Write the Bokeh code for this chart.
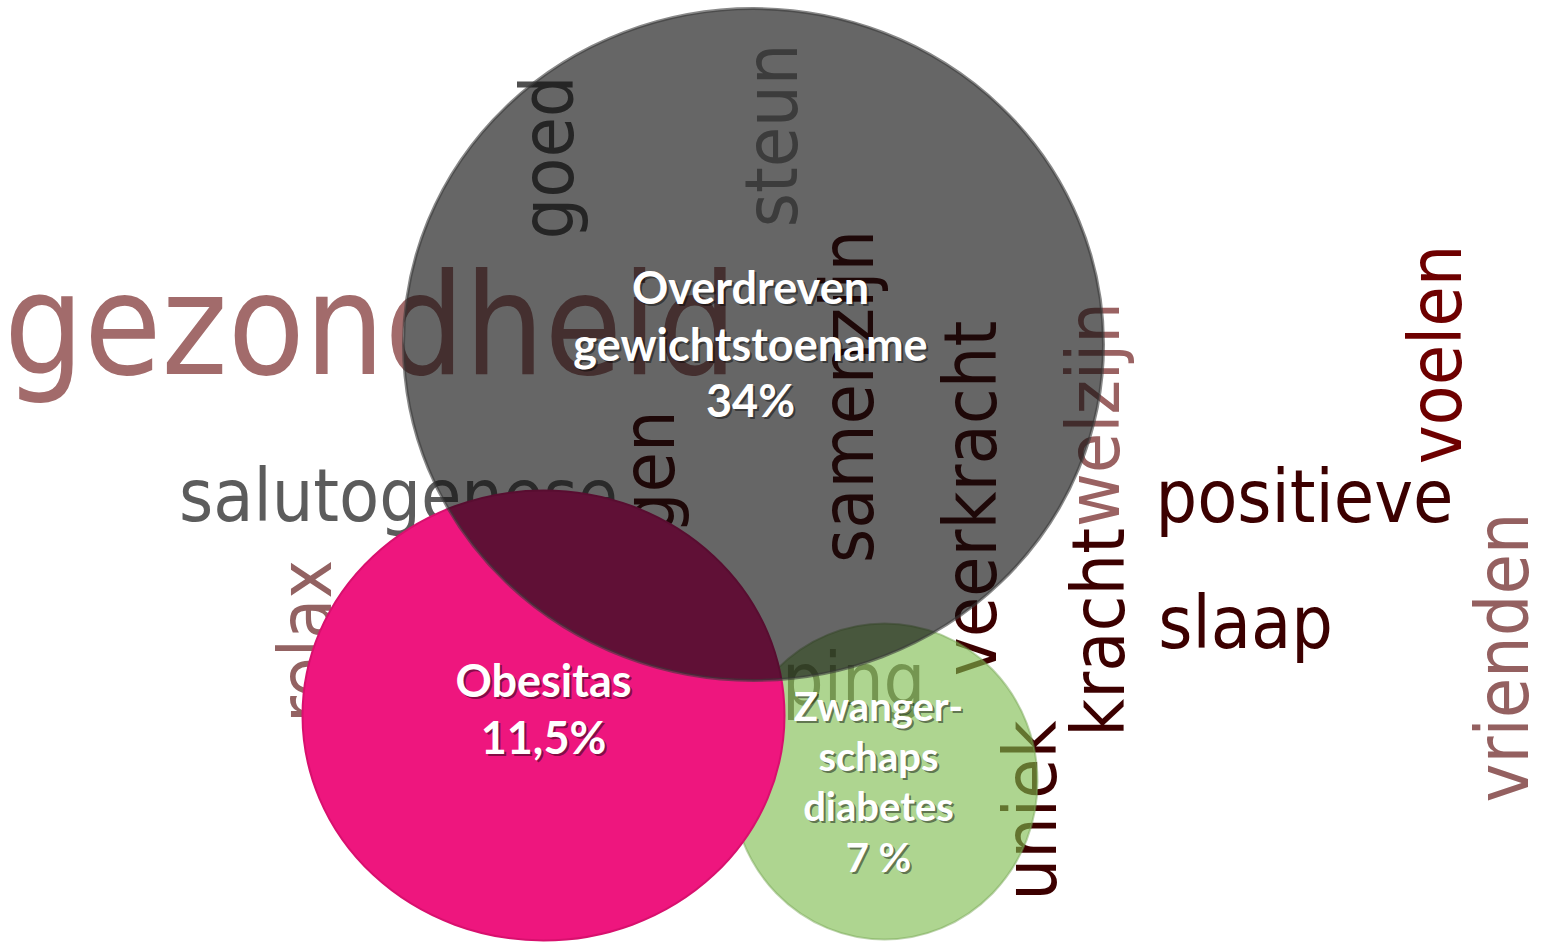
import math
from bokeh.plotting import figure
from bokeh.models import Range1d, ColumnDataSource
from bokeh.core.properties import value
from bokeh.embed import file_html
from bokeh.resources import INLINE

# ---------------- data ----------------
categories = ["Overdreven gewichtstoename", "Obesitas", "Zwangerschapsdiabetes"]
percentages = [34, 11.5, 7]
label_lines = [["Overdreven", "gewichtstoename"], ["Obesitas"], ["Zwanger-", "schaps", "diabetes"]]
percent_labels = ["34%", "11,5%", "7 %"]

words = ["gezondheid", "salutogenese", "positieve", "slaap", "coping", "goed", "steun",
         "samenzijn", "veerkracht", "welzijn", "kracht", "uniek", "voelen", "vrienden",
         "relax", "bewegen"]
word_weights = [2, 1, 1, 1, 1, 1, 1, 1, 1, 1, 1, 1, 1, 1, 1, 1]

# ---------------- layout (page pixels, origin top-left) ----------------
W, H = 1550, 945
word_cx = [370, 398, 1304, 1245, 815, 552, 776, 852, 975, 1098, 1103, 1035, 1440, 1507, 310, 653]
word_cy = [335, 500, 501, 627, 684, 157, 135, 396, 498, 414, 632, 810, 354, 657, 641, 560]
word_vertical = [0, 0, 0, 0, 0, 1, 1, 1, 1, 1, 1, 1, 1, 1, 1, 1]
word_colors = ["#a26b6b", "#5c5c5c", "#3c0000", "#3c0000", "#6a5a5a", "#505050", "#8e8e8e",
               "#3c0000", "#3c0000", "#9a6262", "#3c0000", "#3c0000", "#6e0000", "#946060",
               "#936262", "#3c0000"]
word_sizes = [140 if w == 2 else 73 for w in word_weights]
word_font = "DejaVu Sans Condensed"

def Y(py):
    return H - py

xs, ys, angs, sizes = [], [], [], []
for cx, cy, vert, fs in zip(word_cx, word_cy, word_vertical, word_sizes):
    adj = 0.07 * fs
    if vert:
        xs.append(cx - adj)
        ys.append(Y(cy))
        angs.append(math.pi / 2)
    else:
        xs.append(cx)
        ys.append(Y(cy - adj))
        angs.append(0.0)
    sizes.append(f"{fs}px")

word_src = ColumnDataSource(dict(x=xs, y=ys, text=words, angle=angs, size=sizes, color=word_colors))

p = figure(width=W, height=942, output_backend="svg", toolbar_location=None,
           x_range=Range1d(0, W), y_range=Range1d(H - 942, H),
           x_axis_location=None, y_axis_location=None, min_border=0)
p.grid.visible = False
p.outline_line_color = None
p.background_fill_color = "white"
p.border_fill_color = "white"

p.text(x="x", y="y", text="text", angle="angle", text_font_size="size",
       text_color="color", text_align="center", text_baseline="alphabetic",
       text_font=value(word_font), source=word_src)

# circles: grey (overdreven), pink (obesitas), green (zwangerschapsdiabetes)
circ_cx = [753, 543, 884]
circ_cy = [344, 715, 781]
circ_w = [700, 482, 306]
circ_h = [672, 450, 316]

# green (under pink and grey)
p.ellipse(x=[circ_cx[2]], y=[Y(circ_cy[2])], width=[circ_w[2]], height=[circ_h[2]],
          fill_color="#7cbc4c", fill_alpha=0.62, line_color="#7aa858", line_alpha=0.5, line_width=2)
# pink (opaque)
p.ellipse(x=[circ_cx[1]], y=[Y(circ_cy[1])], width=[circ_w[1]], height=[circ_h[1]],
          fill_color="#ee167e", fill_alpha=1.0, line_color="#d8106e", line_width=2)
# grey (semi transparent, on top)
p.ellipse(x=[circ_cx[0]], y=[Y(circ_cy[0])], width=[circ_w[0]], height=[circ_h[0]],
          fill_color="#0d0d0d", fill_alpha=0.63, line_color="#3a3a3a", line_alpha=0.6, line_width=3)

# labels
label_baselines = [[305, 362, 418], [698, 755], [722, 772, 822, 873]]
label_fs = [45, 45, 40]
label_dx = [-3, 0, -6]
lx, ly, lt, ls = [], [], [], []
for i, (lines, pct) in enumerate(zip(label_lines, percent_labels)):
    all_lines = lines + [pct]
    for line, by in zip(all_lines, label_baselines[i]):
        lx.append(circ_cx[i] + label_dx[i])
        ly.append(Y(by - 0.42 * label_fs[i]))
        lt.append(line)
        ls.append(f"{label_fs[i]}px")
lab_src = ColumnDataSource(dict(x=lx, y=ly, text=lt, size=ls,
                                xs=[v + 2 for v in lx], ys=[v - 2 for v in ly]))
p.text(x="xs", y="ys", text="text", text_font_size="size", text_color="black", text_alpha=0.45,
       text_align="center", text_baseline="alphabetic", text_font_style="bold",
       text_font=value("Lato"), source=lab_src)
p.text(x="x", y="y", text="text", text_font_size="size", text_color="white",
       text_align="center", text_baseline="alphabetic", text_font_style="bold",
       text_font=value("Lato"), source=lab_src)

open("out.html", "w").write(file_html(p, INLINE))
